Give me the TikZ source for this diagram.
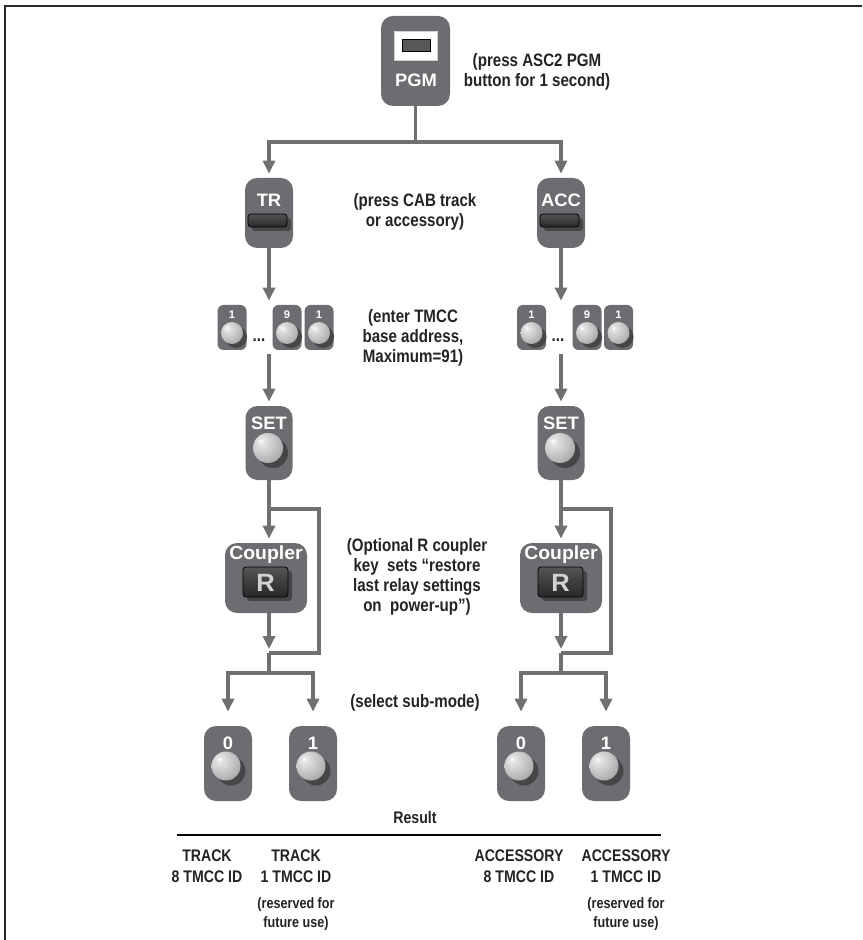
\documentclass[tikz,border=0pt]{standalone}
\usepackage{fontspec}
\setmainfont{Liberation Sans}[FakeStretch=0.84]
\newfontfamily\btnfont{Liberation Sans}[FakeStretch=1.02]
\usetikzlibrary{positioning, arrows.meta, calc}

\definecolor{btngray}{RGB}{108,109,112}
\definecolor{linegray}{RGB}{112,112,112}
\definecolor{keytop}{RGB}{84,84,86}
\definecolor{keybot}{RGB}{40,40,42}
\definecolor{keyshade}{RGB}{70,70,73}
\definecolor{lampedge}{RGB}{140,140,143}
\definecolor{lampmid}{RGB}{190,190,192}
\definecolor{lamplight}{RGB}{228,228,228}
\definecolor{pgmkeygray}{RGB}{88,88,90}
\definecolor{rgray}{RGB}{210,210,212}
\definecolor{framecol}{RGB}{40,40,40}
\definecolor{textcol}{RGB}{35,35,37}

\pgfdeclareradialshading{lampshade}{\pgfpoint{-12bp}{12bp}}{color(0bp)=(white); color(5bp)=(lamplight); color(24bp)=(lampmid); color(46bp)=(lampedge); color(75bp)=(lampedge)}

\begin{document}
\begin{tikzpicture}[
    x=0.5pt, y=-0.5pt,
    font=\fontsize{9}{10}\selectfont\bfseries,
    text=textcol,
    > = {Triangle[width=6pt, length=6.5pt]},
    wire/.style={draw=linegray, line width=1.6pt},
    flow/.style={wire, ->, shorten >=2pt},
    framewire/.style={draw=framecol, line width=1pt},
    rule/.style={draw=black, line width=0.7pt},
    btn/.style={fill=btngray, rounded corners=6pt, inner sep=0pt, minimum width=24pt, minimum height=35pt},
    keybtn/.style={btn, rounded corners=3pt, minimum width=14.5pt, minimum height=22.5pt},
    btnlabel/.style={text=white, inner sep=0pt, font=\btnfont\fontsize{9}{9}\selectfont\bfseries},
    keylabel/.style={btnlabel, font=\btnfont\fontsize{5.5}{5.5}\selectfont\bfseries},
    rlabel/.style={text=rgray, inner sep=0pt, font=\btnfont\fontsize{12.5}{12.5}\selectfont\bfseries},
    note/.style={align=center, inner sep=0pt},
    resnote/.style={note, font=\fontsize{8.4}{10.5}\selectfont\bfseries},
    smallnote/.style={note, font=\fontsize{7.5}{9.5}\selectfont\bfseries},
    darkkey/.style={draw=black, line width=0.4pt, top color=keytop, bottom color=keybot, rounded corners=1.5pt},
    keyshadow/.style={fill=keyshade, rounded corners=1.5pt},
    pgmwin/.style={fill=white, draw=gray!35, line width=0.5pt, inner sep=0pt, minimum width=21.5pt, minimum height=14.5pt},
    pgmkey/.style={fill=pgmkeygray, draw=black, line width=0.5pt, inner sep=0pt, minimum width=14pt, minimum height=6pt},
    lampshadow/.style={fill=keyshade},
    lamp/.style={shading=lampshade}
]
\useasboundingbox (0,0) rectangle (862,940);

% --- Frame ---
\coordinate (frametl) at (5,6);
\coordinate (frametr) at (862,6);
\coordinate (framebl) at (5,940);
\draw[framewire] (frametr) -- (frametl) -- (framebl);

% --- PGM ---
\node[btn, minimum width=34.5pt, minimum height=45pt] (pgm) at (415.5,61) {};
\node[pgmwin] (pgmwin) at (415.5,46.5) {};
\node[pgmkey] (pgmkey) at (416,46) {};
\node[btnlabel] (pgmlabel) at (416,80) {PGM};
\node[note] (pgmnote) at (537,71.5) {(press ASC2 PGM\\button for 1 second)};

% --- TR / ACC ---
\node[btn] (tr) at (269,213) {};
\node[btn] (acc) at (561,213) {};
\node[btnlabel] (trlabel) at (269,200) {TR};
\node[btnlabel] (acclabel) at (561,200) {ACC};
\foreach \x in {269, 561} {
    \fill[keyshadow] (\x-17,218) rectangle (\x+22,231);
    \draw[darkkey] (\x-21,214) rectangle (\x+18,227);
}
\node[note] (cabnote) at (415,211.5) {(press CAB track\\or accessory)};

% --- Address keys ---
\foreach \n/\x/\t in {trk1/232/1, trk9/287/9, trk1b/319/1, acck1/531.5/1, acck9/587/9, acck1b/618.5/1} {
    \node[keybtn] (\n) at (\x,327.5) {};
    \node[keylabel] (\n label) at (\x,315) {\t};
    \fill[lampshadow] (\x+4,337) circle (11);
    \shade[lamp] (\x,333) circle (11);
}
\node[note, font=\fontsize{9}{9}\selectfont\bfseries] (trdots) at (259,340) {...};
\node[note, font=\fontsize{9}{9}\selectfont\bfseries] (accdots) at (558,340) {...};
\node[note] (tmccnote) at (413,338) {(enter TMCC\\base address,\\Maximum=91)};

% --- SET ---
\node[btn, minimum width=23.5pt, minimum height=37pt] (trset) at (269,443) {};
\node[btn, minimum width=23.5pt, minimum height=37pt] (accset) at (561,443) {};
\node[btnlabel] (trsetlabel) at (269,423) {SET};
\node[btnlabel] (accsetlabel) at (561,423) {SET};
\foreach \x in {268, 560} {
    \fill[lampshadow] (\x+5,453) circle (15);
    \shade[lamp] (\x,448) circle (15);
}

% --- Coupler ---
\node[btn, minimum width=41pt, minimum height=35pt] (trcpl) at (266,578) {};
\node[btn, minimum width=41pt, minimum height=35pt] (acccpl) at (561,578) {};
\node[btnlabel, font=\btnfont\fontsize{9.5}{9.5}\selectfont\bfseries] (trcpllabel) at (266,555) {Coupler};
\node[btnlabel, font=\btnfont\fontsize{9.5}{9.5}\selectfont\bfseries] (acccpllabel) at (561,555) {Coupler};
\foreach \x/\n in {266/trr, 561/accr} {
    \fill[keyshadow] (\x-19,571) rectangle (\x+26,601);
    \draw[darkkey] (\x-23,567) rectangle (\x+22,597);
    \node[rlabel] (\n) at (\x-0.5,582.5) {R};
}
\node[note] (cplnote) at (417,577) {(Optional R coupler\\key\ \ sets “restore\\last relay settings\\on\ \ power-up”)};

% --- Sub-mode buttons ---
\foreach \n/\x/\t in {tr0/228/0, tr1/313/1, acc0/521/0, acc1/606/1} {
    \node[btn, minimum height=37.5pt] (\n) at (\x,763.5) {};
    \node[btnlabel] (\n label) at (\x,743) {\t};
    \fill[lampshadow] (\x+3,771) circle (14.5);
    \shade[lamp] (\x-2,766) circle (14.5);
}
\node[note] (subnote) at (415,703) {(select sub-mode)};

% --- Connectors ---
\coordinate (pgmsplit) at (415.5,142);
\draw[wire] (pgm.south) -- (pgmsplit);
\draw[flow] (pgmsplit) -| (tr.north);
\draw[flow] (pgmsplit) -| (acc.north);
\draw[flow] (tr.south) -- (tr.south |- trk9.north);
\draw[flow] (acc.south) -- (acc.south |- acck9.north);
\draw[flow, shorten <=2pt] (tr.south |- trk9.south) -- (trset.north);
\draw[flow, shorten <=2pt] (acc.south |- acck9.south) -- (accset.north);

% track side bypass
\coordinate (trbypass) at (319,509);
\coordinate (trjoin) at (269,653);
\coordinate (trsplit) at (269,673);
\draw[flow] (trset.south) -- (trset.south |- trcpl.north);
\draw[wire] (trset.south |- trbypass) -- (trbypass) |- (trjoin);
\draw[flow] (trjoin |- trcpl.south) -- (trjoin);
\draw[wire] (trjoin) -- (trsplit);
\draw[flow, shorten >=7pt] (trsplit) -| (tr0.north);
\draw[flow, shorten >=7pt] (trsplit) -| (tr1.north);

% accessory side bypass
\coordinate (accbypass) at (611,509);
\coordinate (accjoin) at (561,653);
\coordinate (accsplit) at (561,673);
\draw[flow] (accset.south) -- (accset.south |- acccpl.north);
\draw[wire] (accset.south |- accbypass) -- (accbypass) |- (accjoin);
\draw[flow] (accjoin |- acccpl.south) -- (accjoin);
\draw[wire] (accjoin) -- (accsplit);
\draw[flow, shorten >=7pt] (accsplit) -| (acc0.north);
\draw[flow, shorten >=7pt] (accsplit) -| (acc1.north);

% --- Result ---
\node[note, font=\fontsize{8.4}{9}\selectfont\bfseries] (resnote) at (415,817) {Result};
\coordinate (resl) at (177,835);
\coordinate (resr) at (661,835);
\draw[rule] (resl) -- (resr);
\node[resnote] (trres8) at (207,866.5) {TRACK\\8 TMCC ID};
\node[resnote] (trres1) at (296,866.5) {TRACK\\1 TMCC ID};
\node[smallnote] (trresv) at (296,914) {(reserved for\\future use)};
\node[resnote] (accres8) at (519,866.5) {ACCESSORY\\8 TMCC ID};
\node[resnote] (accres1) at (626,866.5) {ACCESSORY\\1 TMCC ID};
\node[smallnote] (accresv) at (626,914) {(reserved for\\future use)};

\end{tikzpicture}
\end{document}
